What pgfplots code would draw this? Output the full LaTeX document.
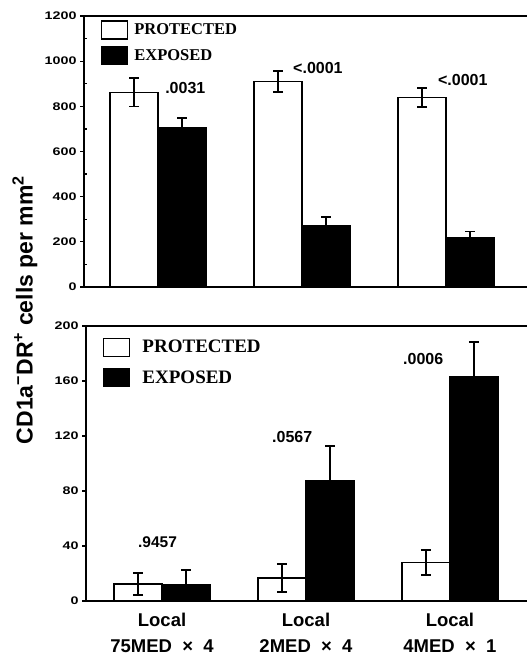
\documentclass[border=0pt]{standalone}
\usepackage{fontspec}
\setmainfont{Liberation Sans}
\newfontfamily\serifbold{Liberation Serif}
\newfontfamily\tickfont[FakeStretch=1.3]{Liberation Sans}
\usepackage{pgfplots}
\pgfplotsset{compat=1.18}
\begin{document}
\begin{tikzpicture}
\useasboundingbox (0pt,0pt) rectangle (527pt,658pt);
\pgfplotsset{
  common/.style={
    scale only axis,
    axis x line=box, axis y line=left,
    axis line style={-, line width=1.6pt},
    tick style={line width=1.2pt, black},
    tick align=outside,
    major tick length=4pt,
    yticklabel style={font=\tickfont\bfseries\fontsize{11}{11}\selectfont},
    /pgf/number format/assume math mode=true,
    /pgf/number format/1000 sep={},
    legend image code/.code={\draw[##1] (0pt,-9pt) rectangle (26pt,9pt);},
    legend style={draw=none, fill=none, inner sep=0pt, legend cell align=left},
  },
  wbar/.style={ybar, bar width=48pt, bar shift=0pt, fill=white, draw=black, line width=1.3pt,
    error bars/.cd, y dir=both, y explicit,
    error mark options={rotate=90, mark size=5pt, line width=1.3pt, black},
    error bar style={line width=1.3pt, black}},
  bbar/.style={ybar, bar width=48pt, bar shift=0pt, fill=black, draw=black, line width=1.3pt,
    error bars/.cd, y dir=plus, y explicit,
    error mark options={rotate=90, mark size=5pt, line width=1.3pt, black},
    error bar style={line width=1.3pt, black}},
}
% ---------- top panel ----------
\begin{axis}[common,
  at={(84pt,371pt)}, anchor=south west,
  width=443pt, height=271pt,
  xmin=0.486, xmax=3.5625,
  ymin=0, ymax=1200,
  ytick={0,200,...,1200},
  minor y tick num=1,
  minor tick length=3pt,
  minor tick style={xshift=3pt},
  xtick=\empty,
  legend style={at={(0.038,0.985)}, anchor=north west,
    font=\serifbold\bfseries\fontsize{16.5}{16.5}\selectfont,
    row sep=6.5pt, /tikz/every odd column/.append style={column sep=4pt}},
]
\addplot[wbar] coordinates {(0.8333,862) +- (0,64) (1.8333,910) +- (0,46) (2.8333,839) +- (0,42)};
\addlegendentry{PROTECTED}
\addplot[bbar] coordinates {(1.1667,704) +- (0,44) (2.1667,270) +- (0,40) (3.1667,217) +- (0,30)};
\addlegendentry{EXPOSED}
\node[anchor=west, font=\bfseries\fontsize{16}{16}\selectfont, inner sep=0pt] at (axis cs:1.049,881) {.0031};
\node[anchor=west, font=\bfseries\fontsize{16}{16}\selectfont, inner sep=0pt] at (axis cs:1.9375,970) {<.0001};
\node[anchor=west, font=\bfseries\fontsize{16}{16}\selectfont, inner sep=0pt] at (axis cs:2.944,917) {<.0001};
\end{axis}
% ---------- bottom panel ----------
\begin{axis}[common,
  at={(86pt,57pt)}, anchor=south west,
  width=441pt, height=275pt,
  xmin=0.472, xmax=3.535,
  ymin=0, ymax=200,
  ytick={0,40,...,200},
  xtick={1,2,3},
  x tick style={draw=none},
  xticklabels={{Local\\75MED \;×\; 4},{Local\\2MED \;×\; 4},{Local\\4MED \;×\; 1}},
  xticklabel style={align=center, font=\bfseries\fontsize{18.5}{26}\selectfont, yshift=-5pt},
  legend style={at={(0.0385,0.958)}, anchor=north west,
    font=\serifbold\bfseries\fontsize{19}{19}\selectfont,
    row sep=11pt, /tikz/every odd column/.append style={column sep=10pt}},
]
\addplot[wbar] coordinates {(0.8333,12.4) +- (0,8) (1.8333,16.7) +- (0,10.2) (2.8333,28) +- (0,9)};
\addlegendentry{PROTECTED}
\addplot[bbar] coordinates {(1.1667,11.6) +- (0,11) (2.1667,87.3) +- (0,25.4) (3.1667,162.9) +- (0,25.5)};
\addlegendentry{EXPOSED}
\node[anchor=west, font=\bfseries\fontsize{15.5}{15.5}\selectfont, inner sep=0pt] at (axis cs:0.833,43) {.9457};
\node[anchor=west, font=\bfseries\fontsize{16}{16}\selectfont, inner sep=0pt] at (axis cs:1.764,119) {.0567};
\node[anchor=west, font=\bfseries\fontsize{16}{16}\selectfont, inner sep=0pt] at (axis cs:2.674,176) {.0006};
\end{axis}
% ---------- shared y label ----------
\node[rotate=90, font=\bfseries\fontsize{23}{23}\selectfont] at (25pt,348pt)
  {CD1a\textsuperscript{−}DR\textsuperscript{+} cells per mm\textsuperscript{2}};
\end{tikzpicture}
\end{document}
